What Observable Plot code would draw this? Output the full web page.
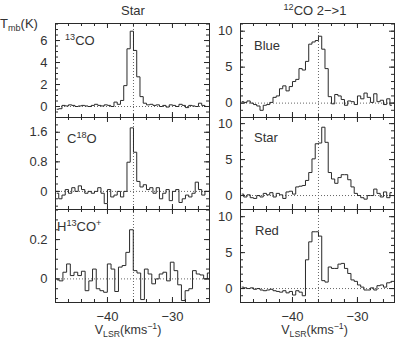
<!DOCTYPE html>
<html><head><meta charset="utf-8">
<script src="https://cdn.jsdelivr.net/npm/d3@7"></script>
<script src="https://cdn.jsdelivr.net/npm/@observablehq/plot@0.6"></script>
<style>
body{margin:0;background:#fff;}
#chart{position:relative;width:396px;height:341px;font-family:"Liberation Sans",Arial,sans-serif;overflow:hidden;}
#chart .panel{position:absolute;}
#chart svg{background:transparent !important;}
</style></head><body><div id="chart"></div>
<script>
// channel grids (left edge of first channel, channel width, km/s)
const v0 = -48;
const dvCO13 = 0.5, dvC18O = 0.5, dvH13CO = 0.57, dvCO12 = 0.5;
const vSys = -36;

const co13 = [-0.25,-0.2,0.1,0.05,0.15,0.1,0.0,0.05,0.1,0.05,0.0,0.1,0.2,0.1,0.05,0.15,0.1,0.0,0.4,0.2,0.55,1.9,5.25,6.85,5.1,2.7,0.9,0.3,0.15,0.2,0.1,0.15,0.0,0.1,-0.05,0.15,0.1,0.0,0.2,0.1,-0.1,0.1,0.05,0.0,0.3,0.1,0.0];
const c18o = [-0.05,-0.2,-0.1,0.05,-0.05,0.1,0.0,0.15,0.05,-0.05,0.0,-0.05,0.0,0.1,-0.05,-0.33,0.05,-0.15,-0.1,0.0,-0.15,0.0,0.79,1.72,1.06,0.27,0.12,0.18,0.05,0.1,-0.05,0.1,-0.2,-0.05,0.05,-0.25,0.0,0.05,-0.3,-0.2,-0.1,-0.15,-0.05,0.25,0.05,-0.1,0.0];
const h13cop = [-0.005,-0.01,0.034,0.076,0.017,0.034,0.017,0.039,-0.06,-0.01,0.05,-0.05,-0.06,-0.068,0.076,0.05,-0.064,0.06,0.068,0.135,0.25,0.042,0.03,-0.105,0.05,0.025,-0.025,0.0,0.025,0.034,-0.01,0.085,0.042,-0.03,-0.11,-0.06,-0.05,0.042,0.025,0.02,0.0,0.03];
const co12Blue = [0.2,0.1,0.3,0.0,-0.2,-0.4,-1.0,-0.3,-0.2,0.1,0.8,1.0,2.0,2.4,1.7,2.3,3.0,3.3,4.8,4.6,5.8,8.2,8.5,8.7,9.3,7.5,4.8,0.9,-0.1,1.2,1.0,0.5,-0.3,0.3,0.2,-0.2,1.0,0.6,1.4,0.8,0.1,1.3,0.2,0.4,-0.2,0.6,-0.3];
const co12Star = [0.2,-0.2,0.1,-0.3,-0.4,0.0,-0.2,0.3,0.1,0.4,-0.2,0.3,0.1,-0.4,0.5,0.6,0.2,1.2,1.3,1.4,2.1,3.2,5.1,7.2,7.3,9.5,7.4,3.2,2.3,1.7,2.5,2.9,2.9,2.2,1.2,0.3,0.0,-0.3,-0.5,0.0,0.0,0.9,0.3,-0.2,0.5,-0.3,0.4];
const co12Red = [0.2,0.1,0.0,0.1,-0.1,0.0,-0.2,-0.3,-0.2,-0.1,-0.3,-0.4,-0.5,-0.3,-0.6,-0.4,-0.9,-0.3,-0.5,-1.0,4.0,6.5,7.9,7.9,7.3,1.1,0.9,3.0,2.8,2.8,3.4,3.5,2.8,2.1,1.2,1.0,0.5,0.2,-0.2,-0.2,0.1,-0.2,0.4,0.5,0.2,0.8,0.9];

const xDomain = [-48, -24.3];
const xMajor = [-40, -30];
const xMinor = [-46,-44,-42,-40,-38,-36,-34,-32,-30,-28,-26];

const FONT = '"Liberation Sans", Arial, sans-serif';
const INK = "#2a2a2a";
const PW = 154;

function spectrum(vals, dv) {
  return vals.map((t, i) => ({v: v0 + dv * (i + 0.5), t}));
}

function panel({vals, dv, yDomain, yMajor, yMinor, left, top, h, bottom}) {
  const ml = 55, mr = 2, mt = 2, mb = bottom ? 45 : 2;
  const minorLen = 3, majorLen = 5;
  const plot = Plot.plot({
    width: ml + PW + mr, height: mt + h + mb,
    marginLeft: ml, marginRight: mr, marginTop: mt, marginBottom: mb,
    x: {domain: xDomain, axis: null, label: null},
    y: {domain: yDomain, axis: null, label: null},
    style: {background: "transparent", fontFamily: FONT, fontSize: "13px", color: "#333", overflow: "visible"},
    marks: [
      Plot.ruleY([0], {stroke: "#666", strokeDasharray: "1,2"}),
      Plot.ruleX([vSys], {stroke: "#666", strokeDasharray: "1,2"}),
      Plot.line(spectrum(vals, dv), {x: "v", y: "t", curve: "step", stroke: INK, strokeWidth: 1}),
      Plot.frame({stroke: INK}),
      Plot.tickX(xMinor, {x: d => d, insetTop: h - minorLen, stroke: INK}),
      Plot.tickX(xMinor, {x: d => d, insetBottom: h - minorLen, stroke: INK}),
      Plot.tickX(xMajor, {x: d => d, insetTop: h - majorLen, stroke: INK}),
      Plot.tickX(xMajor, {x: d => d, insetBottom: h - majorLen, stroke: INK}),
      Plot.tickY(yMinor, {y: d => d, insetRight: PW - minorLen, stroke: INK}),
      Plot.tickY(yMinor, {y: d => d, insetLeft: PW - minorLen, stroke: INK}),
      Plot.tickY(yMajor, {y: d => d, insetRight: PW - majorLen, stroke: INK}),
      Plot.tickY(yMajor, {y: d => d, insetLeft: PW - majorLen, stroke: INK}),
      Plot.axisY({ticks: yMajor, anchor: "left", label: null, tickSize: 0, tickPadding: 8, fontSize: 13, fill: "#333", tickFormat: d => String(d)}),
      bottom ? Plot.axisX({ticks: xMajor, anchor: "bottom", label: null, tickSize: 0, tickPadding: 9, fontSize: 13, fill: "#333"}) : null
    ]
  });
  const div = document.createElement("div");
  div.className = "panel";
  div.style.left = (left - ml) + "px";
  div.style.top = (top - mt) + "px";
  div.appendChild(plot);
  document.getElementById("chart").appendChild(div);
}

const rng = (a, b, s) => d3.range(a, b + s / 2, s).map(d => +d.toFixed(3));

// left column
panel({vals: co13, dv: dvCO13, yDomain: [-1, 7.55], yMajor: [0, 2, 4, 6], yMinor: rng(-0.5, 7.5, 0.5), left: 55, top: 23, h: 94});
panel({vals: c18o, dv: dvC18O, yDomain: [-0.49, 2.0], yMajor: [0, 0.8, 1.6], yMinor: rng(-0.4, 2.0, 0.2), left: 55, top: 117, h: 92});
panel({vals: h13cop, dv: dvH13CO, yDomain: [-0.12, 0.353], yMajor: [0, 0.2], yMinor: rng(-0.1, 0.35, 0.05), left: 55, top: 209, h: 93, bottom: true});
// right column
panel({vals: co12Blue, dv: dvCO12, yDomain: [-2, 11.07], yMajor: [0, 5, 10], yMinor: rng(-1, 11, 1), left: 240, top: 23, h: 94});
panel({vals: co12Star, dv: dvCO12, yDomain: [-1.94, 10.85], yMajor: [0, 5, 10], yMinor: rng(-1, 10, 1), left: 240, top: 117, h: 92});
panel({vals: co12Red, dv: dvCO12, yDomain: [-1.94, 11], yMajor: [0, 5, 10], yMinor: rng(-1, 10, 1), left: 240, top: 209, h: 93, bottom: true});

// text overlay
const svg = d3.select("#chart").append("svg")
  .attr("width", 396).attr("height", 341)
  .style("position", "absolute").style("left", 0).style("top", 0)
  .style("pointer-events", "none")
  .attr("font-family", FONT).attr("fill", "#333");

function label(x, y, parts, size = 13, anchor = "start") {
  const t = svg.append("text").attr("x", x).attr("y", y).attr("font-size", size).attr("text-anchor", anchor);
  for (const [s, kind] of parts) {
    const ts = t.append("tspan").text(s);
    if (kind === "sup") ts.attr("font-size", size * 0.7).attr("dy", -5);
    else if (kind === "sub") ts.attr("font-size", size * 0.7).attr("dy", 3);
    else if (kind === "supEnd") ts.attr("dy", 5);
    else if (kind === "subEnd") ts.attr("dy", -3);
  }
  return t;
}
label(133, 15, [["Star"]], 13, "middle");
label(315, 15, [["12", "sup"], ["CO  2\u2212>1", "supEnd"]], 13, "middle");
label(0, 28, [["T"], ["mb", "sub"], ["(K)", "subEnd"]], 13);
label(65, 45, [["13", "sup"], ["CO", "supEnd"]], 13);
label(67, 143, [["C"], ["18", "sup"], ["O", "supEnd"]], 13);
label(57, 231, [["H"], ["13", "sup"], ["CO", "supEnd"], ["+", "sup"]], 13);
label(254, 50, [["Blue"]], 13);
label(254, 142, [["Star"]], 13);
label(255, 235, [["Red"]], 13);
for (const cx of [128, 314.5]) {
  label(cx, 334, [["V"], ["LSR", "sub"], ["(kms", "subEnd"], ["\u22121", "sup"], [")", "supEnd"]], 12.5, "middle");
}
</script></body></html>
